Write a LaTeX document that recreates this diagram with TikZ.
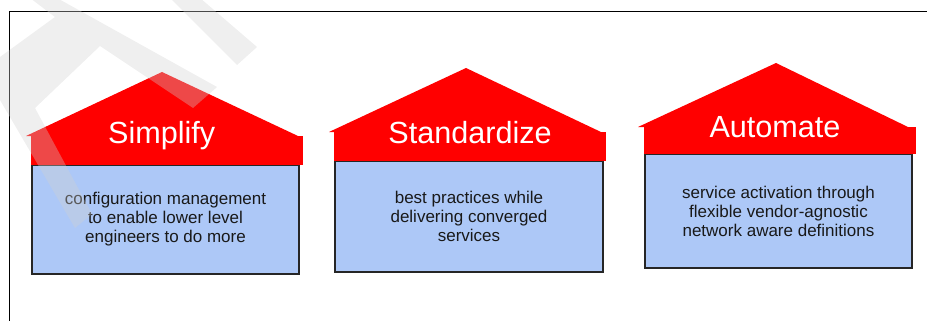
\documentclass[tikz,border=0pt]{standalone}
\usepackage{fontspec}
\setmainfont{Liberation Sans}
\definecolor{boxblue}{RGB}{173,200,247}
\definecolor{roofred}{RGB}{255,0,0}
\definecolor{wmgray}{RGB}{209,209,209}
\begin{document}
\begin{tikzpicture}[x=1pt,y=-1pt,
  body/.style={draw=black!85, line width=1.3pt, fill=boxblue, inner sep=0pt, align=center,
    font=\fontsize{17}{19}\selectfont, text=black!90},
  housetitle/.style={text=white, font=\fontsize{30.6}{34}\selectfont, inner sep=0pt, anchor=base},
  roof/.style={fill=roofred},
  frameline/.style={draw=black, line width=1.1pt},
  watermark/.style={fill=wmgray, opacity=0.35}]
\useasboundingbox (0,0) rectangle (927,321);
% frame
\coordinate (fbl) at (9.5,321);
\coordinate (ftl) at (9.5,11.5);
\coordinate (ftr) at (927,11.5);
\draw[frameline] (fbl) -- (ftl) -- (ftr);

% house 1
\node[body, minimum width=267pt, minimum height=109pt] (b1) at (165.5,219.5)
  {configuration management\\to enable lower level\\engineers to do more};
\fill[roof] (26,136) -- (162,72) -- (298,136) -- cycle;
\fill[roof] (31,135.5) rectangle (303,165);
\node[housetitle] (t1) at (161.7,143.3) {Simplify};

% house 2
\node[body, minimum width=268pt, minimum height=111pt] (b2) at (469,216.5)
  {best practices while\\delivering converged\\services};
\fill[roof] (329,132) -- (466,68) -- (601,132) -- cycle;
\fill[roof] (334,131.5) rectangle (606,161);
\node[housetitle] (t2) at (470,143.3) {Standardize};

% house 3
\node[body, minimum width=267pt, minimum height=114pt] (b3) at (778.5,211)
  {service activation through\\flexible vendor-agnostic\\network aware definitions};
\fill[roof] (638,127) -- (776,63) -- (908,127) -- cycle;
\fill[roof] (644,126.5) rectangle (916,154);
\node[housetitle] (t3) at (775,137.3) {Automate};

% watermark
\fill[watermark] (30,-2) -- (57,-2) -- (217,87) -- (193,108) -- (100,46) -- (35,108)
  -- (92,214) -- (75,228) -- (0,100) -- (0,57) -- (55,17) -- cycle;
\fill[watermark] (170,-2) -- (200,-2) -- (257,47) -- (237,65) -- cycle;
\end{tikzpicture}
\end{document}
